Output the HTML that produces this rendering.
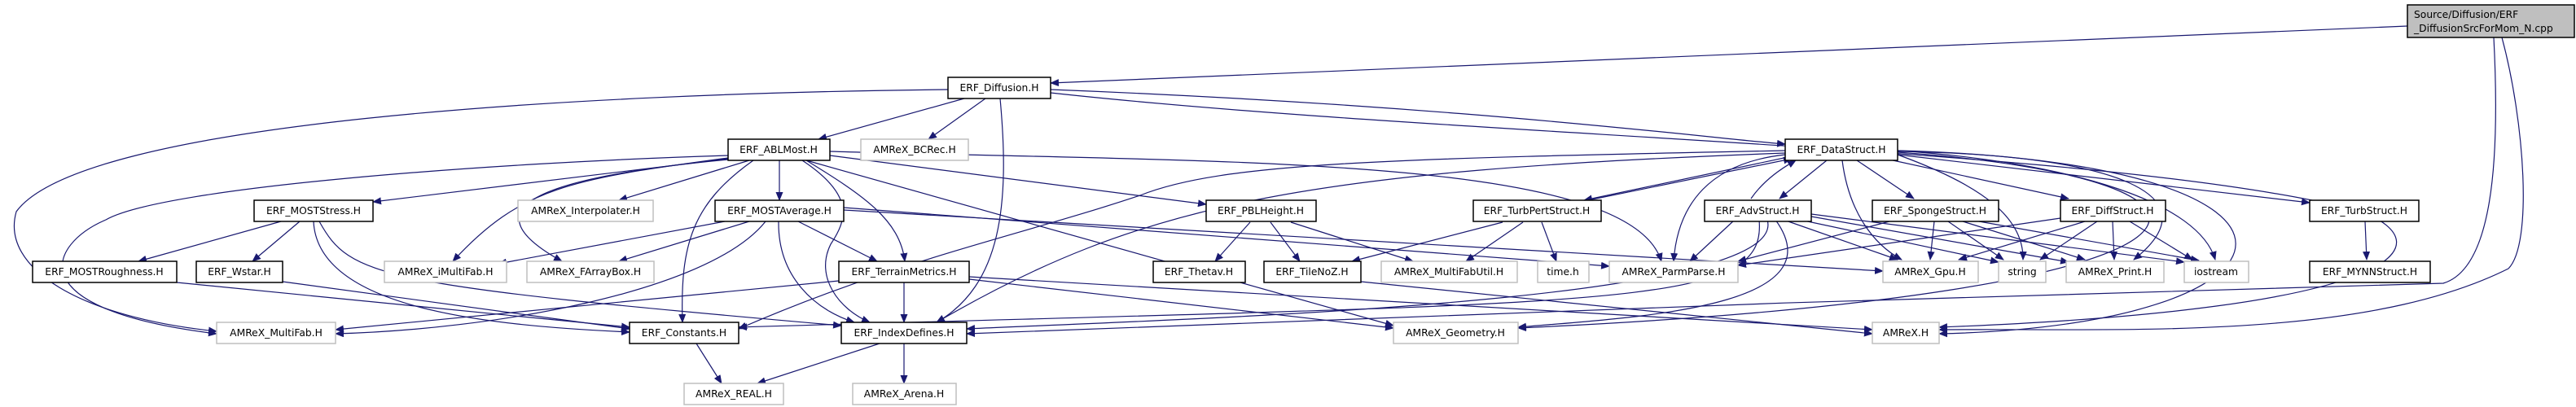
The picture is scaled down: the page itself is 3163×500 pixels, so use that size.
<!DOCTYPE html>
<html><head><meta charset="utf-8"><style>
html,body{margin:0;padding:0;background:#fff}
svg{display:block}
text{font-family:"DejaVu Sans","Liberation Sans",sans-serif;font-size:12.3px;fill:#000}
.b{fill:#fff;stroke:#000;stroke-width:1.5}
.g{fill:#fff;stroke:#bfbfbf;stroke-width:1.5}
.e{fill:none;stroke:#191970;stroke-width:1.2}
</style></head><body>
<svg width="3163" height="500" viewBox="0 0 3163 500" xmlns="http://www.w3.org/2000/svg">
<defs><marker id="a" markerWidth="11" markerHeight="9" refX="10" refY="4.5" orient="auto" markerUnits="userSpaceOnUse"><path d="M0,0L11,4.5L0,9z" fill="#191970"/></marker></defs>
<g class="e" marker-end="url(#a)">
<path d="M2956,32 L1290,102"/>
<path d="M3062,46 C3070,200 3060,330 3000,348 C2500,360 1500,395 1187,410"/>
<path d="M3072,46 C3100,150 3110,300 3080,330 C2900,420 2600,403 2381,405"/>
<path d="M1184,121 L1005,171"/>
<path d="M1210,121 L1140,171"/>
<path d="M1228,121 C1240,250 1230,350 1150,396"/>
<path d="M1290,110 C1800,130 2100,170 2192,177"/>
<path d="M1290,114 C1800,170 2600,180 2900,260 C3000,300 2960,380 2381,402"/>
<path d="M1164,110 C700,115 100,150 20,260 C0,330 100,390 266,407"/>
<path d="M894,191 C600,200 200,230 130,270 C60,300 20,380 266,410"/>
<path d="M894,195 L458,248"/>
<path d="M920,197 L760,246"/>
<path d="M957,197 L957,246"/>
<path d="M894,194 C700,220 640,230 556,321"/>
<path d="M894,196 C640,220 580,260 690,321"/>
<path d="M925,197 C850,250 835,300 838,396"/>
<path d="M990,197 C1060,240 1105,270 1111,321"/>
<path d="M985,197 C1050,240 1040,270 1020,300 C1000,340 1030,380 1068,396"/>
<path d="M1019,191 L1481,251"/>
<path d="M1019,186 C1500,200 2000,190 2040,321"/>
<path d="M990,197 L1711,400"/>
<path d="M345,272 L170,321"/>
<path d="M368,272 L310,321"/>
<path d="M385,272 C390,380 600,400 773,408"/>
<path d="M392,272 C430,340 460,350 1033,400"/>
<path d="M217,347 L773,402"/>
<path d="M347,346 L773,404"/>
<path d="M890,272 L612,324"/>
<path d="M920,272 L760,321"/>
<path d="M940,272 C870,360 600,405 412,410"/>
<path d="M956,272 C955,340 1000,380 1049,396"/>
<path d="M980,272 L1077,321"/>
<path d="M1036,255 L1976,327"/>
<path d="M1036,258 L2312,333"/>
<path d="M1110,347 L1110,396"/>
<path d="M1030,345 L412,405"/>
<path d="M1190,343 L1711,403"/>
<path d="M1190,340 L2299,405"/>
<path d="M1535,273 L1492,321"/>
<path d="M1560,273 L1596,321"/>
<path d="M1585,273 L1735,321"/>
<path d="M1845,273 L1660,321"/>
<path d="M1870,273 L1800,321"/>
<path d="M1893,273 L1911,321"/>
<path d="M1950,246 L2200,195"/>
<path d="M2200,192 L1945,246"/>
<path d="M1671,346 L2299,410"/>
<path d="M2243,197 L2185,244"/>
<path d="M2280,197 L2350,244"/>
<path d="M2315,195 L2540,244"/>
<path d="M2330,190 L2836,249"/>
<path d="M2262,197 C2270,260 2300,300 2335,319"/>
<path d="M2330,190 C2440,230 2485,270 2484,319"/>
<path d="M2330,186 C2600,190 2720,240 2620,319"/>
<path d="M2330,185 C2550,200 2700,250 2720,319"/>
<path d="M2192,190 C2100,200 2060,250 2055,321"/>
<path d="M2192,185 C1700,195 1500,200 1400,240 C1250,290 1100,320 907,404"/>
<path d="M2192,188 C1600,210 1400,250 1150,396"/>
<path d="M2330,187 C2800,220 2800,360 1864,403"/>
<path d="M2330,185 C2900,200 2850,400 2381,410"/>
<path d="M2130,270 L2075,321"/>
<path d="M2190,270 L2330,319"/>
<path d="M2210,270 L2454,322"/>
<path d="M2224,266 L2540,322"/>
<path d="M2224,263 L2682,322"/>
<path d="M2160,270 C2170,380 2000,370 907,402"/>
<path d="M2170,270 C2200,370 1500,390 1187,404"/>
<path d="M2180,270 C2260,380 2000,390 1864,402"/>
<path d="M2150,244 C2170,215 2200,200 2205,197"/>
<path d="M2320,272 L2134,321"/>
<path d="M2375,272 L2370,319"/>
<path d="M2392,272 L2460,319"/>
<path d="M2410,272 L2560,319"/>
<path d="M2430,272 L2700,320"/>
<path d="M2530,268 L2134,326"/>
<path d="M2560,272 L2405,319"/>
<path d="M2575,272 L2505,319"/>
<path d="M2594,272 L2596,319"/>
<path d="M2615,272 L2692,319"/>
<path d="M2904,272 L2906,319"/>
<path d="M855,422 L886,471"/>
<path d="M1080,422 L930,471"/>
<path d="M1110,422 L1110,471"/>
</g>
<rect x="2956" y="6" width="205" height="40" fill="#bfbfbf" stroke="#000" stroke-width="1.5"/>
<text x="2964" y="22">Source/Diffusion/ERF</text>
<text x="2964" y="39">_DiffusionSrcForMom_N.cpp</text>
<g text-anchor="middle">
<rect class="b" x="1164" y="95" width="126" height="26"/><text x="1227" y="112">ERF_Diffusion.H</text>
<rect class="b" x="894" y="171" width="125" height="26"/><text x="956" y="188">ERF_ABLMost.H</text>
<rect class="g" x="1057" y="171" width="132" height="26"/><text x="1123" y="188">AMReX_BCRec.H</text>
<rect class="b" x="2192" y="171" width="138" height="26"/><text x="2261" y="188">ERF_DataStruct.H</text>
<rect class="b" x="312" y="246" width="146" height="26"/><text x="385" y="263">ERF_MOSTStress.H</text>
<rect class="g" x="636" y="246" width="166" height="26"/><text x="719" y="263">AMReX_Interpolater.H</text>
<rect class="b" x="878" y="246" width="158" height="26"/><text x="957" y="263">ERF_MOSTAverage.H</text>
<rect class="b" x="1481" y="246" width="135" height="26"/><text x="1548" y="263">ERF_PBLHeight.H</text>
<rect class="b" x="1809" y="246" width="157" height="26"/><text x="1887" y="263">ERF_TurbPertStruct.H</text>
<rect class="b" x="2093" y="246" width="131" height="26"/><text x="2158" y="263">ERF_AdvStruct.H</text>
<rect class="b" x="2299" y="246" width="155" height="26"/><text x="2376" y="263">ERF_SpongeStruct.H</text>
<rect class="b" x="2530" y="246" width="129" height="26"/><text x="2594" y="263">ERF_DiffStruct.H</text>
<rect class="b" x="2836" y="246" width="134" height="26"/><text x="2903" y="263">ERF_TurbStruct.H</text>
<rect class="b" x="40" y="321" width="177" height="26"/><text x="128" y="338">ERF_MOSTRoughness.H</text>
<rect class="b" x="241" y="321" width="106" height="26"/><text x="294" y="338">ERF_Wstar.H</text>
<rect class="g" x="472" y="321" width="150" height="26"/><text x="547" y="338">AMReX_iMultiFab.H</text>
<rect class="g" x="647" y="321" width="156" height="26"/><text x="725" y="338">AMReX_FArrayBox.H</text>
<rect class="b" x="1030" y="321" width="160" height="26"/><text x="1110" y="338">ERF_TerrainMetrics.H</text>
<rect class="b" x="1416" y="321" width="113" height="26"/><text x="1472" y="338">ERF_Thetav.H</text>
<rect class="b" x="1552" y="321" width="119" height="26"/><text x="1611" y="338">ERF_TileNoZ.H</text>
<rect class="g" x="1696" y="321" width="167" height="26"/><text x="1779" y="338">AMReX_MultiFabUtil.H</text>
<rect class="g" x="1888" y="321" width="63" height="26"/><text x="1919" y="338">time.h</text>
<rect class="g" x="1976" y="321" width="158" height="26"/><text x="2055" y="338">AMReX_ParmParse.H</text>
<rect class="g" x="2312" y="321" width="117" height="26"/><text x="2370" y="338">AMReX_Gpu.H</text>
<rect class="g" x="2454" y="321" width="58" height="26"/><text x="2483" y="338">string</text>
<rect class="g" x="2537" y="321" width="120" height="26"/><text x="2597" y="338">AMReX_Print.H</text>
<rect class="g" x="2682" y="321" width="79" height="26"/><text x="2721" y="338">iostream</text>
<rect class="b" x="2836" y="321" width="148" height="26"/><text x="2910" y="338">ERF_MYNNStruct.H</text>
<rect class="g" x="266" y="396" width="146" height="26"/><text x="339" y="413">AMReX_MultiFab.H</text>
<rect class="b" x="773" y="396" width="134" height="26"/><text x="840" y="413">ERF_Constants.H</text>
<rect class="b" x="1033" y="396" width="154" height="26"/><text x="1110" y="413">ERF_IndexDefines.H</text>
<rect class="g" x="1711" y="396" width="153" height="26"/><text x="1787" y="413">AMReX_Geometry.H</text>
<rect class="g" x="2299" y="396" width="82" height="26"/><text x="2340" y="413">AMReX.H</text>
<rect class="g" x="840" y="471" width="122" height="26"/><text x="901" y="488">AMReX_REAL.H</text>
<rect class="g" x="1047" y="471" width="127" height="26"/><text x="1110" y="488">AMReX_Arena.H</text>
</g>
</svg>
</body></html>
